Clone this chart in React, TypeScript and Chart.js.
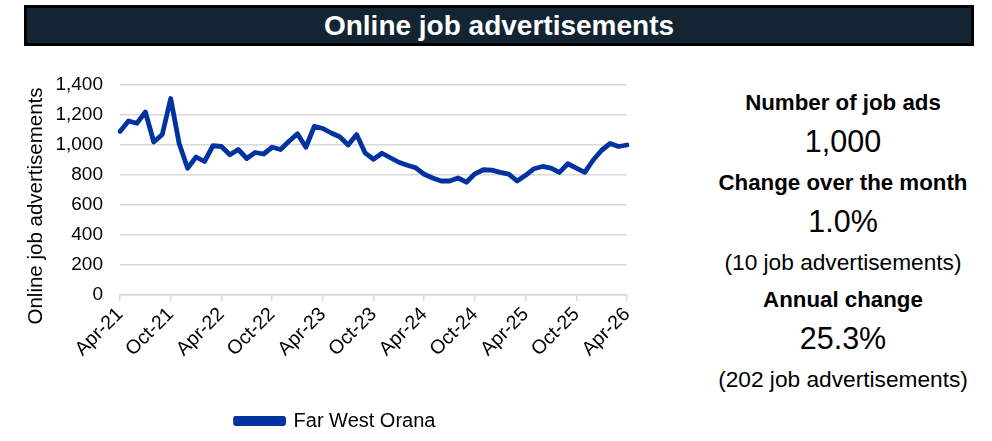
import React, { useEffect, useRef } from "react";
import { Chart, registerables } from "chart.js";

Chart.register(...registerables);

const months: string[] = [
  "Apr-21", "May-21", "Jun-21", "Jul-21", "Aug-21", "Sep-21", "Oct-21", "Nov-21", "Dec-21",
  "Jan-22", "Feb-22", "Mar-22", "Apr-22", "May-22", "Jun-22", "Jul-22", "Aug-22", "Sep-22", "Oct-22", "Nov-22", "Dec-22",
  "Jan-23", "Feb-23", "Mar-23", "Apr-23", "May-23", "Jun-23", "Jul-23", "Aug-23", "Sep-23", "Oct-23", "Nov-23", "Dec-23",
  "Jan-24", "Feb-24", "Mar-24", "Apr-24", "May-24", "Jun-24", "Jul-24", "Aug-24", "Sep-24", "Oct-24", "Nov-24", "Dec-24",
  "Jan-25", "Feb-25", "Mar-25", "Apr-25", "May-25", "Jun-25", "Jul-25", "Aug-25", "Sep-25", "Oct-25", "Nov-25", "Dec-25",
  "Jan-26", "Feb-26", "Mar-26", "Apr-26",
];

const farWestOrana: number[] = [
  1090, 1160, 1145, 1220, 1020, 1070, 1310, 1010, 845,
  920, 890, 995, 990, 935, 970, 910, 950, 940, 985, 970, 1025,
  1075, 985, 1125, 1110, 1080, 1055, 1000, 1070, 948, 905, 945, 915,
  885, 865, 848, 805, 780, 760, 760, 780, 752, 808, 835, 832,
  818, 806, 760, 798, 842, 857, 846, 817, 875, 846, 818, 900,
  965, 1010, 990, 1000,
];

const yTicks: number[] = [0, 200, 400, 600, 800, 1000, 1200, 1400];
const seriesName = "Far West Orana";
const titleText = "Online job advertisements";
const yAxisTitle = "Online job advertisements";

const summary: { text: string; kind: "head" | "big" | "note"; y: number }[] = [
  { text: "Number of job ads", kind: "head", y: 103 },
  { text: "1,000", kind: "big", y: 141 },
  { text: "Change over the month", kind: "head", y: 183 },
  { text: "1.0%", kind: "big", y: 221 },
  { text: "(10 job advertisements)", kind: "note", y: 262 },
  { text: "Annual change", kind: "head", y: 300 },
  { text: "25.3%", kind: "big", y: 338 },
  { text: "(202 job advertisements)", kind: "note", y: 379 },
];

const FONT = "'Liberation Sans', Arial, sans-serif";
const LINE_COLOR = "#0033a0";

const legendShift = {
  id: "legendShift",
  afterLayout(chart: any) {
    const lg = chart.legend;
    if (lg) {
      lg.left += 22;
      lg.right += 22;
    }
  },
};

export default function App() {
  const canvasRef = useRef<HTMLCanvasElement | null>(null);

  useEffect(() => {
    if (!canvasRef.current) return;
    const chart = new Chart(canvasRef.current, {
      type: "line",
      data: {
        labels: months,
        datasets: [
          {
            label: seriesName,
            data: farWestOrana,
            borderColor: LINE_COLOR,
            backgroundColor: LINE_COLOR,
            borderWidth: 4.8,
            pointRadius: 0,
            tension: 0,
            borderJoinStyle: "round",
            borderCapStyle: "round",
          },
        ],
      },
      plugins: [legendShift],
      options: {
        animation: false,
        responsive: false,
        maintainAspectRatio: false,
        layout: { padding: { top: 35, right: 39, left: 0, bottom: 0 } },
        plugins: {
          tooltip: { enabled: false },
          legend: {
            position: "bottom",
            labels: {
              font: { family: FONT, size: 20 },
              color: "#000",
              boxWidth: 48,
              boxHeight: 5,
              padding: 11,
            },
          },
        },
        scales: {
          x: {
            type: "category",
            offset: false,
            afterFit: (s: any) => {
              s.height = 105;
            },
            grid: {
              drawOnChartArea: false,
              drawTicks: true,
              tickLength: 6,
              color: (ctx: any) => (ctx.index % 6 === 0 ? "#d9d9d9" : "rgba(0,0,0,0)"),
              lineWidth: 1.5,
            },
            border: { display: true, color: "#d9d9d9", width: 1.5 },
            ticks: {
              autoSkip: false,
              minRotation: 45,
              maxRotation: 45,
              padding: 2,
              color: "#000",
              font: { family: FONT, size: 19.5 },
              callback: (_v: any, i: number) => (i % 6 === 0 ? months[i] : ""),
            },
          },
          y: {
            min: 0,
            max: 1400,
            afterFit: (s: any) => {
              s.width = 120;
            },
            afterBuildTicks: (s: any) => {
              s.ticks = yTicks.map((v) => ({ value: v }));
            },
            grid: {
              drawTicks: false,
              color: "#d9d9d9",
              lineWidth: 1.5,
            },
            border: { display: false },
            ticks: {
              padding: 17,
              color: "#000",
              font: { family: FONT, size: 19 },
              callback: (v: any) => Number(v).toLocaleString("en-US"),
            },
            title: { display: false },
          },
        },
      },
    });
    return () => chart.destroy();
  }, []);

  return (
    <div style={{ position: "absolute", left: 0, top: 0, width: 992, height: 441, background: "#fff", fontFamily: FONT }}>
      <div
        style={{
          position: "absolute",
          left: 24,
          top: 5,
          width: 950,
          height: 41,
          boxSizing: "border-box",
          border: "3px solid #000",
          background: "#132433",
          color: "#fff",
          fontWeight: "bold",
          fontSize: 28,
          display: "flex",
          alignItems: "center",
          justifyContent: "center",
        }}
      >
        {titleText}
      </div>
      <canvas
        ref={canvasRef}
        width={666}
        height={391}
        style={{ position: "absolute", left: 0, top: 50, width: 666, height: 391 }}
      />
      <div
        style={{
          position: "absolute",
          left: 35 - 150,
          top: 206 - 14,
          width: 300,
          height: 28,
          lineHeight: "28px",
          textAlign: "center",
          whiteSpace: "nowrap",
          color: "#000",
          fontSize: 20.5,
          transform: "rotate(-90deg)",
          transformOrigin: "50% 50%",
        }}
      >
        {yAxisTitle}
      </div>
      {summary.map((s, i) => (
        <div
          key={i}
          style={{
            position: "absolute",
            left: 693,
            width: 300,
            top: s.y - 20,
            height: 40,
            lineHeight: "40px",
            textAlign: "center",
            whiteSpace: "nowrap",
            color: "#000",
            fontWeight: s.kind === "head" ? "bold" : "normal",
            fontSize: s.kind === "big" ? 30.5 : s.kind === "head" ? 22.3 : 22.7,
          }}
        >
          {s.text}
        </div>
      ))}
    </div>
  );
}
